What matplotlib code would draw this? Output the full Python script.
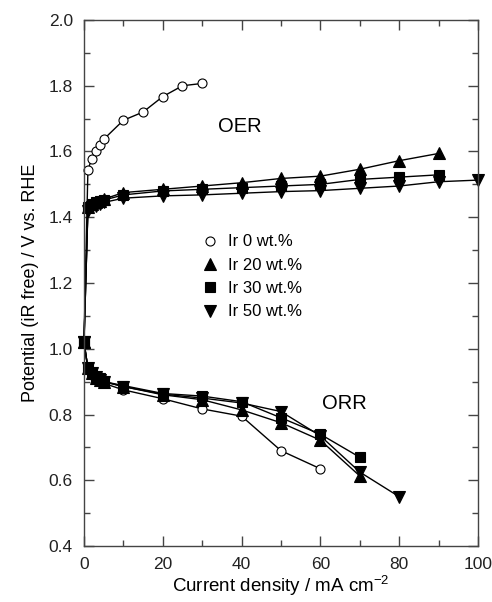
import matplotlib
matplotlib.use("Agg")
import matplotlib.pyplot as plt
from matplotlib.ticker import MultipleLocator, FuncFormatter

plt.rcParams['font.family'] = ['Liberation Sans', 'DejaVu Sans']

# Ir 0 wt.%
x_oer_0 = [0, 1, 2, 3, 4, 5, 10, 15, 20, 25, 30]
y_oer_0 = [1.02, 1.545, 1.578, 1.60, 1.62, 1.637, 1.695, 1.72, 1.767, 1.80, 1.807]
x_orr_0 = [0, 1, 2, 3, 4, 5, 10, 20, 30, 40, 50, 60]
y_orr_0 = [1.02, 0.94, 0.92, 0.91, 0.90, 0.895, 0.875, 0.848, 0.817, 0.795, 0.69, 0.635]

# Ir 20 wt.%
x_oer_20 = [0, 1, 2, 3, 4, 5, 10, 20, 30, 40, 50, 60, 70, 80, 90]
y_oer_20 = [1.02, 1.43, 1.44, 1.445, 1.45, 1.455, 1.475, 1.485, 1.495, 1.505, 1.518, 1.525, 1.546, 1.572, 1.594]
x_orr_20 = [0, 1, 2, 3, 4, 5, 10, 20, 30, 40, 50, 60, 70]
y_orr_20 = [1.02, 0.94, 0.925, 0.91, 0.905, 0.90, 0.885, 0.86, 0.845, 0.814, 0.775, 0.722, 0.613]

# Ir 30 wt.%
x_oer_30 = [0, 1, 2, 3, 4, 5, 10, 20, 30, 40, 50, 60, 70, 80, 90]
y_oer_30 = [1.02, 1.43, 1.44, 1.445, 1.448, 1.452, 1.468, 1.48, 1.485, 1.49, 1.495, 1.50, 1.515, 1.522, 1.529]
x_orr_30 = [0, 1, 2, 3, 4, 5, 10, 20, 30, 40, 50, 60, 70]
y_orr_30 = [1.02, 0.94, 0.925, 0.915, 0.91, 0.90, 0.888, 0.864, 0.856, 0.839, 0.79, 0.74, 0.67]

# Ir 50 wt.%
x_oer_50 = [0, 1, 2, 3, 4, 5, 10, 20, 30, 40, 50, 60, 70, 80, 90, 100]
y_oer_50 = [1.02, 1.42, 1.43, 1.435, 1.44, 1.445, 1.458, 1.465, 1.468, 1.473, 1.478, 1.481, 1.488, 1.495, 1.508, 1.513]
x_orr_50 = [0, 1, 2, 3, 4, 5, 10, 20, 30, 40, 50, 60, 70, 80]
y_orr_50 = [1.02, 0.94, 0.925, 0.915, 0.905, 0.90, 0.885, 0.862, 0.85, 0.835, 0.809, 0.735, 0.625, 0.55]

labels = ['Ir 0 wt.%', 'Ir 20 wt.%', 'Ir 30 wt.%', 'Ir 50 wt.%']

series = [
    (x_oer_0, y_oer_0, x_orr_0, y_orr_0, 'o', 'white', 6.5),
    (x_oer_20, y_oer_20, x_orr_20, y_orr_20, '^', 'black', 8),
    (x_oer_30, y_oer_30, x_orr_30, y_orr_30, 's', 'black', 6.5),
    (x_oer_50, y_oer_50, x_orr_50, y_orr_50, 'v', 'black', 8),
]

fig = plt.figure(figsize=(4.92, 6.02), dpi=100)
ax = fig.add_axes([0.1707, 0.093, 0.8008, 0.8738])

for (xo, yo, xr, yr, m, fc, ms), lab in zip(series, labels):
    ax.plot(xo, yo, color='black', lw=1, marker=m, ms=ms, mfc=fc, mec='black',
            mew=0.8, label=lab, clip_on=False)
    ax.plot(xr, yr, color='black', lw=1, marker=m, ms=ms, mfc=fc, mec='black',
            mew=0.8, clip_on=False)

ax.set_xlim(0, 100)
ax.set_ylim(0.4, 2.0)
ax.xaxis.set_major_locator(MultipleLocator(20))
ax.xaxis.set_minor_locator(MultipleLocator(10))
ax.yaxis.set_major_locator(MultipleLocator(0.2))
ax.yaxis.set_minor_locator(MultipleLocator(0.1))
ax.xaxis.set_major_formatter(FuncFormatter(lambda v, p: f"{v:.0f}"))
ax.yaxis.set_major_formatter(FuncFormatter(lambda v, p: f"{v:.1f}"))
ax.tick_params(which='both', direction='in', top=True, right=True, labelsize=12.5,
               width=1.0, color='#444444', labelcolor='#222222')
ax.tick_params(which='major', length=7)
ax.tick_params(which='minor', length=4)
ax.tick_params(axis='x', which='major', pad=8)
ax.tick_params(axis='y', which='major', pad=8)
for s in ax.spines.values():
    s.set_linewidth(1.0)
    s.set_color('#444444')

ax.set_xlabel('Current density / mA cm$^{\\mathregular{-2}}$', fontsize=13.5, labelpad=1)
ax.set_ylabel('Potential (iR free) / V vs. RHE', fontsize=13, labelpad=7)

ax.text(34, 1.675, 'OER', fontsize=14.5, va='center')
ax.text(60.3, 0.835, 'ORR', fontsize=14.5, va='center')

ax.legend(loc='upper left', bbox_to_anchor=(0.285, 0.605), frameon=False, fontsize=12,
          handlelength=0.8, handletextpad=0.7, labelspacing=0.5, numpoints=1,
          borderaxespad=0)
for h in ax.get_legend().legend_handles:
    h.set_linestyle('none')

fig.savefig('out.png', dpi=100)
